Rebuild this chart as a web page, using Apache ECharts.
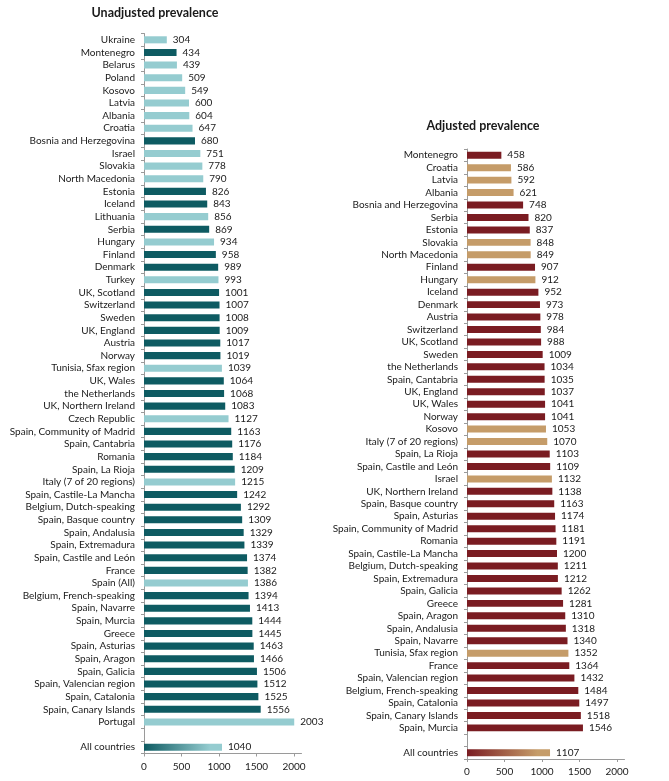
<!DOCTYPE html>
<html>
<head>
<meta charset="utf-8">
<script src="https://cdn.jsdelivr.net/npm/echarts@6/dist/echarts.min.js"></script>
<style>
html,body{margin:0;padding:0;background:#fff;}
#chart{width:669px;height:781px;}
</style>
</head>
<body>
<div id="chart"></div>
<script>
// ---------- DATA ----------
const leftCategories = [
  "Ukraine","Montenegro","Belarus","Poland","Kosovo","Latvia","Albania","Croatia",
  "Bosnia and Herzegovina","Israel","Slovakia","North Macedonia","Estonia","Iceland",
  "Lithuania","Serbia","Hungary","Finland","Denmark","Turkey","UK, Scotland","Switzerland",
  "Sweden","UK, England","Austria","Norway","Tunisia, Sfax region","UK, Wales",
  "the Netherlands","UK, Northern Ireland","Czech Republic","Spain, Community of Madrid",
  "Spain, Cantabria","Romania","Spain, La Rioja","Italy (7 of 20 regions)",
  "Spain, Castile-La Mancha","Belgium, Dutch-speaking","Spain, Basque country",
  "Spain, Andalusia","Spain, Extremadura","Spain, Castile and León","France","Spain (All)",
  "Belgium, French-speaking","Spain, Navarre","Spain, Murcia","Greece","Spain, Asturias",
  "Spain, Aragon","Spain, Galicia","Spain, Valencian region","Spain, Catalonia",
  "Spain, Canary Islands","Portugal","","All countries"
];
const leftValues = [
  304,434,439,509,549,600,604,647,680,751,778,790,826,843,856,869,934,958,989,993,
  1001,1007,1008,1009,1017,1019,1039,1064,1068,1083,1127,1163,1176,1184,1209,1215,
  1242,1292,1309,1329,1339,1374,1382,1386,1394,1413,1444,1445,1463,1466,1506,1512,
  1525,1556,2003,null,1040
];
// L = light bar, D = dark bar, A = all-countries (gradient)
const leftGroups = [
  "L","D","L","L","L","L","L","L","D","L","L","L","D","D","L","D","L","D","D","L",
  "D","D","D","D","D","D","L","D","D","D","L","D","D","D","D","L","D","D","D","D",
  "D","D","D","L","D","D","D","D","D","D","D","D","D","D","L","","A"
];

const rightCategories = [
  "Montenegro","Croatia","Latvia","Albania","Bosnia and Herzegovina","Serbia","Estonia",
  "Slovakia","North Macedonia","Finland","Hungary","Iceland","Denmark","Austria",
  "Switzerland","UK, Scotland","Sweden","the Netherlands","Spain, Cantabria","UK, England",
  "UK, Wales","Norway","Kosovo","Italy (7 of 20 regions)","Spain, La Rioja",
  "Spain, Castile and León","Israel","UK, Northern Ireland","Spain, Basque country",
  "Spain, Asturias","Spain, Community of Madrid","Romania","Spain, Castile-La Mancha",
  "Belgium, Dutch-speaking","Spain, Extremadura","Spain, Galicia","Greece","Spain, Aragon",
  "Spain, Andalusia","Spain, Navarre","Tunisia, Sfax region","France",
  "Spain, Valencian region","Belgium, French-speaking","Spain, Catalonia",
  "Spain, Canary Islands","Spain, Murcia","","All countries"
];
const rightValues = [
  458,586,592,621,748,820,837,848,849,907,912,952,973,978,984,988,1009,1034,1035,1037,
  1041,1041,1053,1070,1103,1109,1132,1138,1163,1174,1181,1191,1200,1211,1212,1262,1281,
  1310,1318,1340,1352,1364,1432,1484,1497,1518,1546,null,1107
];
const rightGroups = [
  "D","L","L","L","D","D","D","L","L","D","L","D","D","D","D","D","D","D","D","D",
  "D","D","L","L","D","D","L","D","D","D","D","D","D","D","D","D","D","D","D","D",
  "L","D","D","D","D","D","D","","A"
];

const xTicks = [0, 500, 1000, 1500, 2000];
const leftTitle = "Unadjusted prevalence";
const rightTitle = "Adjusted prevalence";

// ---------- STYLE ----------
const FONT = "Lato, 'Open Sans', sans-serif";
const FS = 10;
const TXT = "#1a1a1a";
const AX = "#9a9a9a";
const teal = {D: "#0e5b62", L: "#95ccd0"};
const red = {D: "#7a1c22", L: "#c59c69"};

function makeData(values, groups, pal) {
  return values.map((v, i) => {
    const g = groups[i];
    let color;
    if (g === "A") {
      color = new echarts.graphic.LinearGradient(0, 0, 1, 0, [
        {offset: 0, color: pal.D},
        {offset: 0.85, color: pal.L},
        {offset: 1, color: pal.L}
      ]);
    } else {
      color = pal[g] || pal.D;
    }
    return {value: v, itemStyle: {color: color}};
  });
}

const chart = echarts.init(document.getElementById("chart"), null, {renderer: "canvas"});

function xAxisDef(gridIndex) {
  return {
    type: "value", gridIndex: gridIndex, min: 0, max: 2100,
    axisLine: {show: true, lineStyle: {color: AX, width: 1}},
    axisTick: {show: true, length: 3, lineStyle: {color: AX}, customValues: xTicks},
    axisLabel: {color: TXT, fontFamily: FONT, fontSize: FS, margin: 8,
                customValues: xTicks, formatter: v => String(v)},
    splitLine: {show: false}
  };
}
function yAxisDef(gridIndex, cats) {
  return {
    type: "category", gridIndex: gridIndex, data: cats, inverse: true,
    axisLine: {show: true, lineStyle: {color: AX, width: 1}},
    axisTick: {show: true, length: 3, alignWithLabel: false, lineStyle: {color: AX}},
    axisLabel: {color: TXT, fontFamily: FONT, fontSize: FS, margin: 9, interval: 0}
  };
}
function seriesDef(idx, values, groups, pal) {
  return {
    type: "bar", xAxisIndex: idx, yAxisIndex: idx,
    data: makeData(values, groups, pal),
    barCategoryGap: "44%",
    label: {show: true, position: "right", distance: 6, color: TXT,
            fontFamily: FONT, fontSize: FS, formatter: p => String(p.value)},
    animation: false
  };
}

chart.setOption({
  backgroundColor: "#ffffff",
  title: [
    {text: leftTitle, left: 150, top: 1, textAlign: "center",
     textStyle: {fontFamily: FONT, fontSize: 12.5, fontWeight: "bold", color: TXT}},
    {text: rightTitle, left: 478, top: 114, textAlign: "center",
     textStyle: {fontFamily: FONT, fontSize: 12.5, fontWeight: "bold", color: TXT}}
  ],
  grid: [
    {left: 144, width: 157.5, top: 33.5, height: 720, containLabel: false, outerBoundsMode: "none"},
    {left: 467, width: 157.5, top: 149, height: 610, containLabel: false, outerBoundsMode: "none"}
  ],
  xAxis: [xAxisDef(0), xAxisDef(1)],
  yAxis: [yAxisDef(0, leftCategories), yAxisDef(1, rightCategories)],
  series: [
    seriesDef(0, leftValues, leftGroups, teal),
    seriesDef(1, rightValues, rightGroups, red)
  ]
});
</script>
</body>
</html>
